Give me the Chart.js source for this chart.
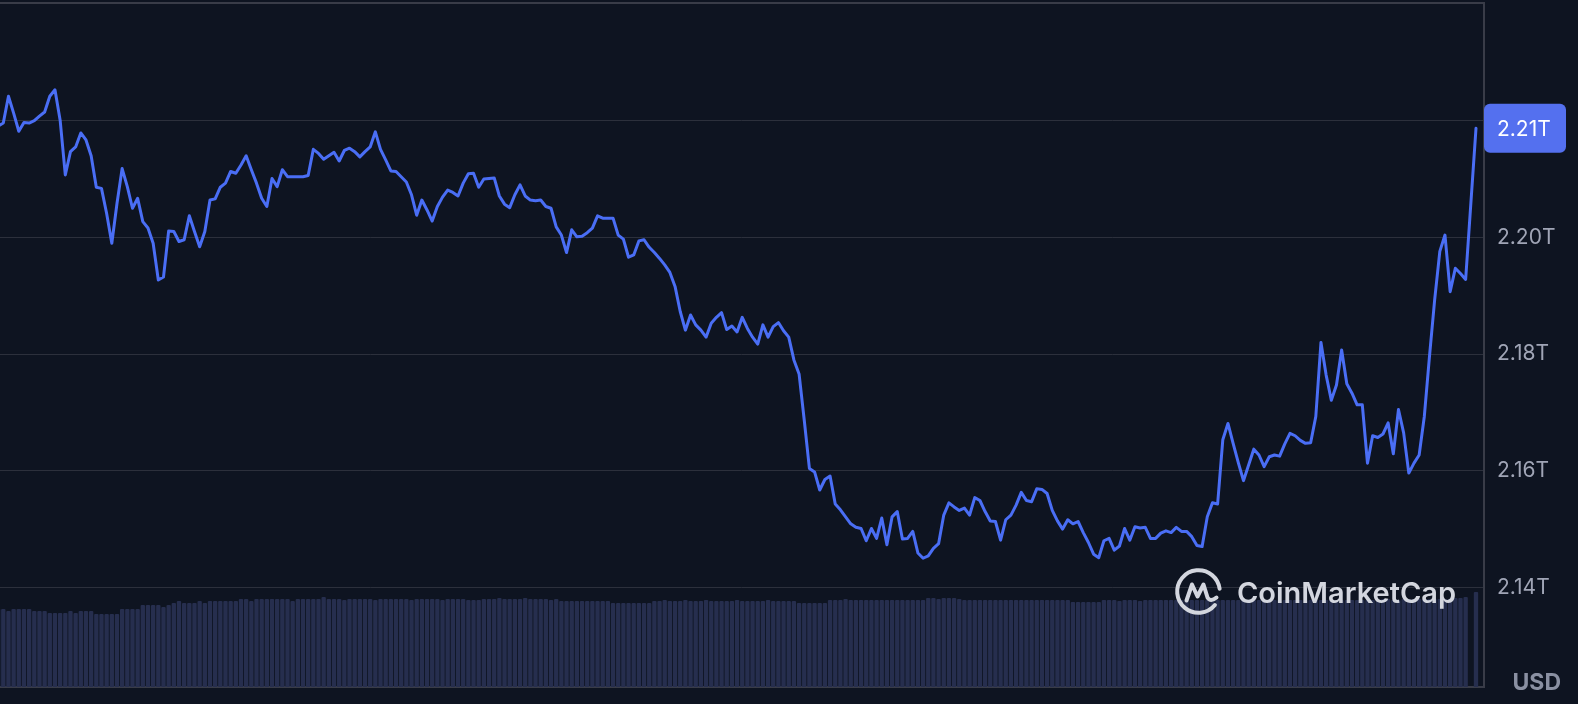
<!DOCTYPE html>
<html>
<head>
<meta charset="utf-8">
<title>Market cap</title>
<script src="https://cdn.jsdelivr.net/npm/chart.js@4.4.1/dist/chart.umd.min.js"></script>
<style>
  html, body { margin: 0; padding: 0; background: #0e1421; }
  #wrap { width: 1578px; height: 704px; }
</style>
</head>
<body>
<div id="wrap"><canvas id="capChart" width="1578" height="704"></canvas></div>
<script>
// total market cap, trillions USD (5 min steps, slot 285 has no sample)
const priceT = [
  2.2191, 2.2196, 2.2242, 2.2213, 2.2182, 2.2197, 2.2196, 2.2200, 2.2208, 2.2215,
  2.2242, 2.2253, 2.2201, 2.2107, 2.2147, 2.2155, 2.2179, 2.2167, 2.2140, 2.2086,
  2.2084, 2.2041, 2.1990, 2.2058, 2.2118, 2.2087, 2.2050, 2.2067, 2.2027, 2.2016,
  2.1990, 2.1927, 2.1932, 2.2011, 2.2010, 2.1993, 2.1996, 2.2037, 2.2010, 2.1984,
  2.2010, 2.2064, 2.2066, 2.2086, 2.2093, 2.2113, 2.2110, 2.2124, 2.2140, 2.2116,
  2.2093, 2.2067, 2.2053, 2.2101, 2.2087, 2.2116, 2.2104, 2.2104, 2.2104, 2.2104,
  2.2106, 2.2151, 2.2144, 2.2134, 2.2140, 2.2146, 2.2131, 2.2149, 2.2153, 2.2147,
  2.2138, 2.2147, 2.2155, 2.2181, 2.2151, 2.2133, 2.2114, 2.2113, 2.2104, 2.2095,
  2.2073, 2.2038, 2.2064, 2.2047, 2.2028, 2.2053, 2.2069, 2.2081, 2.2077, 2.2071,
  2.2093, 2.2109, 2.2110, 2.2086, 2.2100, 2.2101, 2.2102, 2.2071, 2.2057, 2.2051,
  2.2073, 2.2090, 2.2071, 2.2064, 2.2063, 2.2064, 2.2053, 2.2050, 2.2018, 2.2004,
  2.1974, 2.2013, 2.2001, 2.2002, 2.2008, 2.2016, 2.2037, 2.2033, 2.2033, 2.2033,
  2.2004, 2.1997, 2.1966, 2.1970, 2.1994, 2.1996, 2.1983, 2.1974, 2.1964, 2.1953,
  2.1940, 2.1916, 2.1873, 2.1841, 2.1867, 2.1850, 2.1841, 2.1829, 2.1853, 2.1863,
  2.1871, 2.1842, 2.1848, 2.1838, 2.1863, 2.1844, 2.1829, 2.1817, 2.1850, 2.1829,
  2.1847, 2.1854, 2.1840, 2.1829, 2.1790, 2.1766, 2.1687, 2.1604, 2.1598, 2.1567,
  2.1585, 2.1591, 2.1543, 2.1533, 2.1521, 2.1509, 2.1503, 2.1501, 2.1480, 2.1501,
  2.1484, 2.1519, 2.1473, 2.1521, 2.1530, 2.1483, 2.1484, 2.1496, 2.1459, 2.1450,
  2.1454, 2.1467, 2.1475, 2.1524, 2.1545, 2.1538, 2.1532, 2.1536, 2.1524, 2.1554,
  2.1549, 2.1530, 2.1514, 2.1513, 2.1481, 2.1516, 2.1524, 2.1541, 2.1563, 2.1549,
  2.1547, 2.1569, 2.1568, 2.1561, 2.1532, 2.1514, 2.1500, 2.1516, 2.1509, 2.1513,
  2.1494, 2.1477, 2.1457, 2.1451, 2.1480, 2.1484, 2.1464, 2.1471, 2.1501, 2.1481,
  2.1504, 2.1502, 2.1503, 2.1484, 2.1484, 2.1493, 2.1497, 2.1494, 2.1503, 2.1496,
  2.1496, 2.1487, 2.1472, 2.1470, 2.1521, 2.1545, 2.1543, 2.1653, 2.1681, 2.1647,
  2.1614, 2.1583, 2.1610, 2.1637, 2.1627, 2.1607, 2.1624, 2.1627, 2.1625, 2.1646,
  2.1664, 2.1660, 2.1652, 2.1647, 2.1648, 2.1693, 2.1820, 2.1764, 2.1721, 2.1747,
  2.1807, 2.1749, 2.1733, 2.1713, 2.1713, 2.1613, 2.1660, 2.1657, 2.1663, 2.1682,
  2.1629, 2.1705, 2.1665, 2.1596, 2.1613, 2.1627, 2.1693, 2.1796, 2.1893, 2.1976,
  2.2004, 2.1907, 2.1947, 2.1938, 2.1928, null, 2.2187
];

// 24h volume, billions USD
const volumeB = [
  78, 78, 76, 78, 78, 78, 78, 76, 76, 76,
  74, 74, 74, 74, 76, 74, 76, 76, 76, 73,
  73, 73, 73, 73, 78, 78, 78, 78, 82, 82,
  82, 82, 80, 82, 84, 86, 84, 84, 84, 86,
  84, 86, 86, 86, 86, 86, 86, 88, 88, 86,
  88, 88, 88, 88, 88, 88, 88, 86, 88, 88,
  88, 88, 88, 90, 88, 88, 88, 87, 88, 88,
  88, 88, 88, 87, 88, 88, 88, 88, 88, 88,
  87, 88, 88, 88, 88, 88, 87, 88, 88, 88,
  88, 87, 87, 87, 88, 88, 88, 89, 88, 88,
  88, 88, 89, 88, 88, 88, 88, 87, 88, 86,
  86, 86, 86, 86, 86, 86, 86, 86, 86, 84,
  84, 84, 84, 84, 84, 84, 84, 86, 86, 87,
  86, 86, 86, 87, 86, 86, 86, 87, 86, 86,
  86, 86, 86, 87, 86, 86, 86, 86, 86, 87,
  86, 86, 86, 86, 86, 84, 84, 84, 84, 84,
  84, 87, 87, 87, 88, 87, 87, 87, 87, 87,
  87, 87, 87, 87, 87, 87, 87, 87, 87, 87,
  89, 89, 88, 89, 89, 89, 88, 87, 87, 87,
  87, 87, 87, 87, 87, 87, 87, 87, 87, 87,
  87, 87, 87, 87, 87, 87, 87, 87, 85, 85,
  85, 85, 85, 85, 87, 87, 87, 86, 87, 87,
  87, 86, 87, 87, 87, 87, 87, 87, 87, 87,
  87, 87, 87, 87, 87, 87, 87, 87, 87, 87,
  87, 87, 87, 87, 87, 87, 87, 87, 87, 87,
  87, 87, 87, 87, 87, 87, 87, 87, 87, 87,
  87, 87, 87, 87, 87, 87, 87, 87, 88, 88,
  87, 87, 88, 88, 88, 88, 88, 88, 88, 88,
  88, 88, 89, 89, 90, null, 95
];

const yTicks = [2.14, 2.16, 2.18, 2.20, 2.22];
const yRange = [2.12293, 2.24018];
const xRange = [0.362, 287.55];
const volumeMax = 684;

const gridColor = '#2c303c';
const borderColor = '#393c48';
const lineColor = '#4a6ef5';

Chart.defaults.font.family = 'Inter';

const overlay = {
    id: 'overlay',
    afterDatasetsDraw(chart) {
        // watermark
        const c = chart.ctx;
        c.save();
        c.strokeStyle = '#d3d6de';
        c.fillStyle = '#d3d6de';
        c.lineWidth = 4;
        c.lineCap = 'round';
        c.lineJoin = 'round';
        const cx = 1198.5, cy = 591.5;
        c.beginPath();
        c.arc(cx, cy, 21.3, 0.22 * Math.PI, 1.96 * Math.PI);
        c.stroke();
        c.beginPath();
        c.moveTo(cx - 12, cy + 9);
        c.lineTo(cx - 6.5, cy - 7);
        c.lineTo(cx - 1, cy + 5);
        c.lineTo(cx + 5, cy - 7);
        c.lineTo(cx + 9, cy + 6);
        c.quadraticCurveTo(cx + 12, cy + 11, cx + 18, cy + 6);
        c.stroke();
        c.font = '600 29px Inter';
        c.textBaseline = 'alphabetic';
        c.textAlign = 'left';
        c.fillText('CoinMarketCap', 1237, 603);
        c.restore();
    },
    afterDraw(chart) {
        const c = chart.ctx;
        const y = chart.scales.y;
        const last = priceT[priceT.length - 1];
        const py = y.getPixelForValue(last);
        c.save();
        c.fillStyle = '#5470ef';
        c.beginPath();
        c.roundRect(y.left, py - 24.5, 82, 49, 6);
        c.fill();
        c.fillStyle = '#ffffff';
        c.font = '21px Inter';
        c.textBaseline = 'middle';
        c.textAlign = 'left';
        c.fillText((Math.floor(last * 100) / 100).toFixed(2) + 'T', y.left + 13, py + 1);
        c.fillStyle = '#8a90a2';
        c.font = 'bold 23px Inter';
        c.textAlign = 'right';
        c.textBaseline = 'alphabetic';
        c.fillText('USD', 1561, 690);
        c.restore();
    }
};

const ctx = document.getElementById('capChart').getContext('2d');
const capChart = new Chart(ctx, {
    data: {
        datasets: [{
            type: 'line',
            label: 'Market Cap',
            data: priceT.map((v, i) => ({ x: i, y: v })),
            borderColor: lineColor,
            borderWidth: 3,
            borderJoinStyle: 'round',
            borderCapStyle: 'round',
            pointRadius: 0,
            tension: 0,
            spanGaps: true,
            yAxisID: 'y',
            order: 0
        }, {
            type: 'bar',
            label: 'Volume',
            data: volumeB.map((v, i) => ({ x: i, y: v })),
            backgroundColor: '#262e4e',
            borderRadius: 1,
            categoryPercentage: 1,
            barPercentage: 0.84,
            yAxisID: 'yv',
            order: 1
        }]
    },
    options: {
        responsive: false,
        animation: false,
        layout: { padding: { top: 3, bottom: 17, left: 0, right: 0 } },
        plugins: {
            legend: { display: false },
            tooltip: { enabled: false }
        },
        scales: {
            x: {
                type: 'linear',
                position: 'bottom',
                offset: false,
                min: xRange[0],
                max: xRange[1],
                ticks: { display: false },
                grid: { display: false, drawTicks: false, offset: false },
                border: { display: true, color: borderColor, width: 2 },
                afterFit(s) { s.height = 0; s.paddingLeft = 0; s.paddingRight = 0; }
            },
            xTop: {
                type: 'linear',
                position: 'top',
                offset: false,
                min: xRange[0],
                max: xRange[1],
                ticks: { display: false },
                grid: { display: false, drawTicks: false },
                border: { display: true, color: borderColor, width: 2 },
                afterFit(s) { s.height = 0; s.paddingLeft = 0; s.paddingRight = 0; }
            },
            y: {
                position: 'right',
                min: yRange[0],
                max: yRange[1],
                afterBuildTicks(s) { s.ticks = yTicks.map(v => ({ value: v })); },
                ticks: {
                    color: '#a0a5b6',
                    font: { size: 21 },
                    padding: 13,
                    callback: v => v.toFixed(2) + 'T'
                },
                grid: { color: gridColor, lineWidth: 1, drawTicks: false },
                border: { display: true, color: borderColor, width: 2 },
                afterFit(s) { s.width = 94; s.paddingTop = 0; s.paddingBottom = 0; }
            },
            yv: {
                display: false,
                min: 0,
                max: volumeMax
            }
        }
    },
    plugins: [overlay]
});
</script>
</body>
</html>
